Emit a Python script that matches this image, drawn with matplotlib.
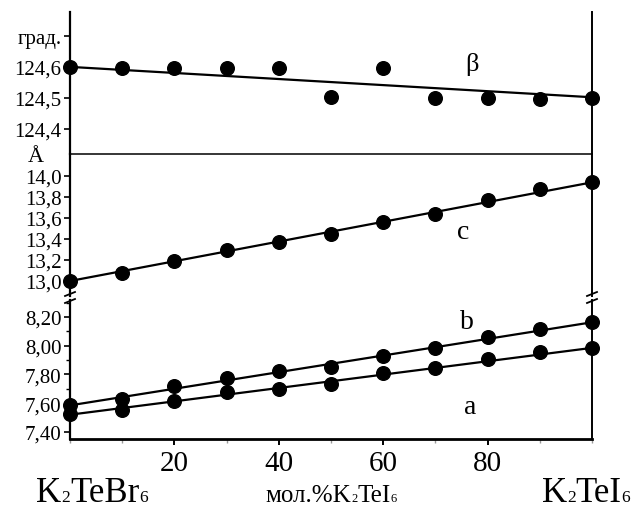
import numpy as np
import matplotlib
matplotlib.use("Agg")
import matplotlib.pyplot as plt
from matplotlib.lines import Line2D
from matplotlib.ticker import FixedLocator, FixedFormatter, MultipleLocator

plt.rcParams['font.family'] = ['Liberation Serif', 'DejaVu Serif']

# composition, mol.% K2TeI6
x = [0, 10, 20, 30, 40, 50, 60, 70, 80, 90, 100]

# beta angle, degrees
beta = [124.60, 124.597, 124.597, 124.597, 124.597, 124.503, 124.597, 124.50, 124.50, 124.497, 124.50]
beta_line = [124.60, 124.502]

# lattice parameters, angstrom
c = [13.00, 13.08, 13.19, 13.30, 13.37, 13.45, 13.56, 13.64, 13.77, 13.88, 13.94]
c_line = [13.00, 13.94]
b = [7.588, 7.63, 7.72, 7.774, 7.826, 7.85, 7.93, 7.982, 8.058, 8.117, 8.163]
b_line = [7.585, 8.163]
a = [7.525, 7.553, 7.614, 7.68, 7.70, 7.734, 7.808, 7.843, 7.908, 7.954, 7.982]
a_line = [7.52, 7.985]

top_ticks = [124.4, 124.5, 124.6, 124.7]
top_labels = ['124,4', '124,5', '124,6', 'град.']
mid_ticks = [13.0, 13.2, 13.4, 13.6, 13.8, 14.0]
mid_labels = ['13,0', '13,2', '13,4', '13,6', '13,8', '14,0']
bot_ticks = [7.40, 7.60, 7.80, 8.00, 8.20]
bot_labels = ['7,40', '7,60', '7,80', '8,00', '8,20']
x_ticks = [20, 40, 60, 80]

# formula pieces: (text, subscript?)
left_name = [('K', 0), ('2', 1), ('TeBr', 0), ('6', 1)]
right_name = [('K', 0), ('2', 1), ('TeI', 0), ('6', 1)]
axis_name = [('мол.%K', 0), ('2', 1), ('TeI', 0), ('6', 1)]

W, H = 634, 506
fig = plt.figure(figsize=(W / 100, H / 100), dpi=100)
renderer = fig.canvas.get_renderer()


def box(x0, y0, x1, y1):
    return [x0 / W, 1 - y1 / H, (x1 - x0) / W, (y1 - y0) / H]


def formula(xc, base, parts, size):
    # lay the pieces out left to right, subscripts small on the baseline
    texts = []
    for s, sub in parts:
        t = fig.text(0, 1 - base / H, s, fontsize=size * (0.5 if sub else 1),
                     va='baseline', ha='left')
        texts.append(t)
    widths = [t.get_window_extent(renderer).width for t in texts]
    xp = xc - sum(widths) / 2
    for t, w in zip(texts, widths):
        t.set_x(xp / W)
        xp += w


ax_top = fig.add_axes(box(70, 13, 592, 155))
ax_mid = fig.add_axes(box(70, 155, 592, 297))
ax_bot = fig.add_axes(box(70, 301, 592, 440))

ax_top.set_ylim(124.319, 124.777)
ax_mid.set_ylim(12.857, 14.21)
ax_bot.set_ylim(7.351, 8.318)

dot = dict(marker='o', ms=9.8, color='black', ls='none', clip_on=False, zorder=5)
line = dict(color='black', lw=1.6, clip_on=False)
ends = [x[0], x[-1]]

ax_top.plot(ends, beta_line, **line)
ax_top.plot(x, beta, **dot)
ax_mid.plot(ends, c_line, **line)
ax_mid.plot(x, c, **dot)
ax_bot.plot(ends, b_line, **line)
ax_bot.plot(x, b, **dot)
ax_bot.plot(ends, a_line, **line)
ax_bot.plot(x, a, **dot)

ax_top.text(77, 124.61, 'β', fontsize=19, ha='center', va='center')
ax_mid.text(75.3, 13.47, 'c', fontsize=20, ha='center', va='center')
ax_bot.text(76, 8.165, 'b', fontsize=20, ha='center', va='center')
ax_bot.text(76.6, 7.58, 'a', fontsize=20, ha='center', va='center')

for ax in (ax_top, ax_mid, ax_bot):
    ax.set_xlim(0, 100)
    ax.patch.set_visible(False)
    ax.spines['top'].set_visible(False)
    ax.spines['left'].set_linewidth(1.6)
    ax.spines['right'].set_linewidth(1.4)
    ax.tick_params(axis='y', direction='out', length=4, width=1.2,
                   labelsize=15, pad=2, right=False)
    ax.tick_params(axis='y', which='minor', length=3, width=1.0)

for ax in (ax_top, ax_mid):
    ax.set_xticks([])

ax_top.spines['bottom'].set_linewidth(1.1)
ax_mid.spines['bottom'].set_visible(False)
ax_bot.spines['bottom'].set_linewidth(2.0)

ax_top.yaxis.set_major_locator(FixedLocator(top_ticks))
ax_top.yaxis.set_major_formatter(FixedFormatter(top_labels))
ax_mid.yaxis.set_major_locator(FixedLocator(mid_ticks))
ax_mid.yaxis.set_major_formatter(FixedFormatter(mid_labels))
ax_bot.yaxis.set_major_locator(FixedLocator(bot_ticks))
ax_bot.yaxis.set_major_formatter(FixedFormatter(bot_labels))
ax_bot.yaxis.set_minor_locator(MultipleLocator(0.1))

ax_bot.set_xticks(x_ticks)
ax_bot.set_xticklabels([str(t) for t in x_ticks])
ax_bot.xaxis.set_minor_locator(MultipleLocator(10))
ax_bot.tick_params(axis='x', direction='out', length=4, width=1.4,
                   labelsize=21, pad=4)
ax_bot.tick_params(axis='x', which='minor', length=3, width=1.0, color='0.6')

# angstrom sign above the separator
fig.text(36 / W, 1 - 162 / H, 'Å', fontsize=16, ha='center', va='baseline')

# axis break marks
for xp in (70, 592):
    for yp in (295, 302):
        fig.add_artist(Line2D([(xp - 5) / W, (xp + 5) / W],
                              [1 - (yp + 2) / H, 1 - (yp - 2) / H],
                              color='black', lw=1.3, transform=fig.transFigure))

formula(92, 502, left_name, 25)
formula(331, 502, axis_name, 18)
formula(586, 502, right_name, 25)

fig.savefig('out.png', dpi=100)
